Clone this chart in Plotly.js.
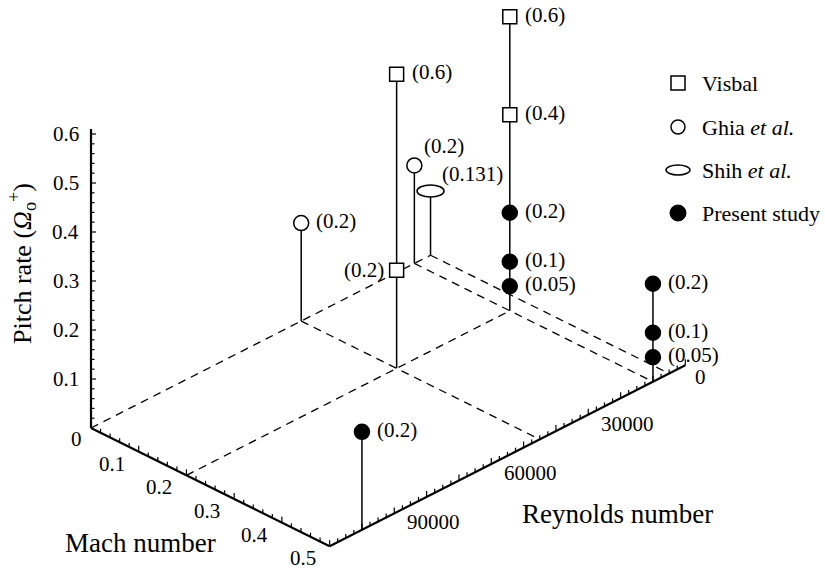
<!DOCTYPE html>
<html>
<head>
<meta charset="utf-8">
<script src="https://cdn.plot.ly/plotly-3.0.1.min.js"></script>
<style>
  html, body { margin: 0; padding: 0; background: #fff; }
  #chart { width: 825px; height: 570px; }
</style>
</head>
<body>
<div id="chart"></div>
<script>
// Pitch-rate cases: Mach number, Reynolds number and pitch rate per source
const visbalMach = [0.2, 0.2, 0.2, 0.2];
const visbalRe = [45000, 45000, 10000, 10000];
const visbalRate = [0.6, 0.2, 0.6, 0.4];

const ghiaMach = [0, 0];
const ghiaRe = [45000, 10000];
const ghiaRate = [0.2, 0.2];

const shihMach = [0];
const shihRe = [5000];
const shihRate = [0.131];

const presentMach = [0.2, 0.2, 0.2, 0.5, 0.5, 0.5, 0.5];
const presentRe = [10000, 10000, 10000, 10000, 10000, 10000, 100000];
const presentRate = [0.2, 0.1, 0.05, 0.2, 0.1, 0.05, 0.2];

// Axis tick labels
const machTicks = [0.1, 0.2, 0.3, 0.4, 0.5];
const machTickLabels = ['0.1', '0.2', '0.3', '0.4', '0.5'];
const reTicks = [0, 30000, 60000, 90000];
const reTickLabels = ['0', '30000', '60000', '90000'];
const rateTicks = [0.1, 0.2, 0.3, 0.4, 0.5, 0.6];
const rateTickLabels = ['0.1', '0.2', '0.3', '0.4', '0.5', '0.6'];

// ---- oblique projection of (Mach, Re, rate) onto the page plane ----
const MACH_MAX = 0.5, RE_MAX = 110000, RATE_MAX = 0.6;
const ORIGIN = [91, 428];          // Mach 0, Re = RE_MAX, rate 0
const MACH_VEC = [238.6, 118.3];   // full Mach span
const RE_VEC = [355.7, -181];      // from Re = RE_MAX down to Re = 0
const RATE_LEN = 294;              // full pitch-rate span (upwards)

function proj(m, re, z) {
  const a = m / MACH_MAX, b = (RE_MAX - re) / RE_MAX, c = z / RATE_MAX;
  return [ORIGIN[0] + a * MACH_VEC[0] + b * RE_VEC[0],
          ORIGIN[1] + a * MACH_VEC[1] + b * RE_VEC[1] - c * RATE_LEN];
}

const FONT = 'Liberation Serif, Times New Roman, Times, serif';
const BLACK = '#000';

function newPath() { return { x: [], y: [] }; }
function seg(path, p, q) { path.x.push(p[0], q[0], null); path.y.push(p[1], q[1], null); }

const series = [
  { key: 'visbal', m: visbalMach, re: visbalRe, z: visbalRate },
  { key: 'ghia', m: ghiaMach, re: ghiaRe, z: ghiaRate },
  { key: 'shih', m: shihMach, re: shihRe, z: shihRate },
  { key: 'present', m: presentMach, re: presentRe, z: presentRate }
];

// ---- axes ----
const axes = newPath();
seg(axes, proj(0, RE_MAX, 0), proj(0, RE_MAX, 0.61));
seg(axes, proj(0, RE_MAX, 0), proj(MACH_MAX, RE_MAX, 0));
seg(axes, proj(MACH_MAX, RE_MAX, 0), proj(MACH_MAX, 0, 0));

// ---- tick marks ----
const ticks = newPath();
for (let i = 1; i <= 30; i++) {
  const p = proj(0, RE_MAX, i * 0.02);
  seg(ticks, p, [p[0] + (i % 5 === 0 ? 5 : 3.5), p[1]]);
}
for (let i = 1; i <= 25; i++) {
  const p = proj(i * 0.02, RE_MAX, 0);
  seg(ticks, p, [p[0], p[1] - (i % 5 === 0 ? 6 : 4)]);
}
for (let i = 0; i < 44; i++) {
  const re = i * 2500;
  const p = proj(MACH_MAX, re, 0);
  seg(ticks, p, [p[0], p[1] - (re % 10000 === 0 ? 6 : 4)]);
}

// ---- dashed guide lines on the base plane ----
const guides = newPath();
const allPts = [];
series.forEach(s => s.m.forEach((m, i) => allPts.push({ m, re: s.re[i], z: s.z[i] })));
const inner = allPts.filter(p => p.m < MACH_MAX);
[...new Set(inner.map(p => p.re))].forEach(re => {
  seg(guides, proj(0, re, 0), proj(MACH_MAX, re, 0));
});
[...new Set(inner.map(p => p.m))].forEach(m => {
  const minRe = Math.min(...inner.filter(p => p.m === m).map(p => p.re));
  seg(guides, proj(m, RE_MAX, 0), proj(m, minRe, 0));
});

// ---- stems from base plane to the highest case at each (Mach, Re) ----
const stems = newPath();
const tops = {};
allPts.forEach(p => {
  const k = p.m + '|' + p.re;
  if (!(k in tops) || p.z > tops[k].z) tops[k] = p;
});
Object.values(tops).forEach(p => seg(stems, proj(p.m, p.re, 0), proj(p.m, p.re, p.z)));

function lineTrace(path, width, dash) {
  return { type: 'scatter', mode: 'lines', x: path.x, y: path.y, hoverinfo: 'skip',
           line: { color: BLACK, width: width, dash: dash || 'solid' }, cliponaxis: false,
           showlegend: false };
}

function markerTrace(s, symbol, fill, size) {
  const pts = s.m.map((m, i) => proj(m, s.re[i], s.z[i]));
  return { type: 'scatter', mode: 'markers', x: pts.map(p => p[0]), y: pts.map(p => p[1]),
           marker: { symbol: symbol, size: size, color: fill, line: { color: BLACK, width: 1.5 } },
           cliponaxis: false, showlegend: false, hoverinfo: 'skip' };
}

const traces = [
  lineTrace(guides, 1.3, '8px,6px'),
  lineTrace(axes, 2.2),
  lineTrace(ticks, 1.2),
  lineTrace(stems, 1.5),
  markerTrace(series[0], 'square', '#fff', 14),
  markerTrace(series[1], 'circle', '#fff', 15),
  markerTrace(series[3], 'circle', BLACK, 15)
];

// Shih et al. case drawn as an ellipse
const shapes = [];
shihMach.forEach((m, i) => {
  const p = proj(m, shihRe[i], shihRate[i]);
  shapes.push({ type: 'circle', layer: 'above', xref: 'x', yref: 'y',
    xsizemode: 'pixel', ysizemode: 'pixel', xanchor: p[0], yanchor: p[1],
    x0: -13.5, x1: 13.5, y0: -6, y1: 6,
    fillcolor: '#fff', line: { color: BLACK, width: 1.5 } });
});

// ---- annotations ----
function note(text, x, y, opts) {
  return Object.assign({ x: x, y: y, xref: 'x', yref: 'y', text: text, showarrow: false,
    font: { family: FONT, size: 21, color: BLACK } }, opts || {});
}
const annotations = [];

// value labels beside each case
const placement = {
  right: { xanchor: 'left', yanchor: 'middle', xshift: 13, yshift: 2 },
  left: { xanchor: 'right', yanchor: 'middle', xshift: -11 },
  above: { xanchor: 'left', yanchor: 'middle', xshift: 8, yshift: 19 }
};
const sidesFor = { visbal: { 1: 'left' }, ghia: { 1: 'above' }, shih: { 0: 'above' } };
series.forEach(s => {
  s.m.forEach((m, i) => {
    const p = proj(m, s.re[i], s.z[i]);
    const side = (sidesFor[s.key] && sidesFor[s.key][i]) || 'right';
    const opt = Object.assign({}, placement[side]);
    if (s.key === 'shih') { opt.xshift = 9; opt.yshift = 17; }
    annotations.push(note('(' + String(s.z[i]) + ')', p[0], p[1], opt));
  });
});

// tick labels
rateTicks.forEach((z, i) => {
  const p = proj(0, RE_MAX, z);
  annotations.push(note(rateTickLabels[i], p[0], p[1], { xanchor: 'right', yanchor: 'middle', xshift: -10 }));
});
{
  const p = proj(0, RE_MAX, 0);
  annotations.push(note('0', p[0], p[1], { xanchor: 'right', yanchor: 'middle', xshift: -7, yshift: -11 }));
}
machTicks.forEach((m, i) => {
  const p = proj(m, RE_MAX, 0);
  annotations.push(note(machTickLabels[i], p[0], p[1], { xanchor: 'right', yanchor: 'middle', xshift: -12, yshift: -12 }));
});
reTicks.forEach((re, i) => {
  const p = proj(MACH_MAX, re, 0);
  annotations.push(note(reTickLabels[i], p[0], p[1], { xanchor: 'left', yanchor: 'middle', xshift: re === 0 ? 8 : 11, yshift: re === 0 ? -12 : -9 }));
});

// axis titles
annotations.push(note('Pitch rate (<i>Ω</i><sub>o</sub><sup>+</sup>)', 22, 264,
  { textangle: -90, xanchor: 'center', yanchor: 'middle', font: { family: FONT, size: 26, color: BLACK } }));
annotations.push(note('Mach number', 140, 543,
  { xanchor: 'center', yanchor: 'middle', font: { family: FONT, size: 27, color: BLACK } }));
annotations.push(note('Reynolds number', 520, 514,
  { xanchor: 'left', yanchor: 'middle', font: { family: FONT, size: 27, color: BLACK } }));

// ---- legend ----
const legendRows = [
  { text: 'Visbal', y: 83 },
  { text: 'Ghia <i>et al.</i>', y: 127 },
  { text: 'Shih <i>et al.</i>', y: 170 },
  { text: 'Present study', y: 213 }
];
const LX = 678, LT = 700;
shapes.push({ type: 'rect', xref: 'x', yref: 'y', x0: LX - 7, x1: LX + 7, y0: 83 - 7, y1: 83 + 7,
  fillcolor: '#fff', line: { color: BLACK, width: 1.5 } });
shapes.push({ type: 'circle', xref: 'x', yref: 'y', x0: LX - 7, x1: LX + 7, y0: 127 - 7, y1: 127 + 7,
  fillcolor: '#fff', line: { color: BLACK, width: 1.5 } });
shapes.push({ type: 'circle', xref: 'x', yref: 'y', x0: LX - 12, x1: LX + 12, y0: 170 - 5, y1: 170 + 5,
  fillcolor: '#fff', line: { color: BLACK, width: 1.5 } });
shapes.push({ type: 'circle', xref: 'x', yref: 'y', x0: LX - 8, x1: LX + 8, y0: 213 - 8, y1: 213 + 8,
  fillcolor: BLACK, line: { color: BLACK, width: 1 } });
legendRows.forEach(r => {
  annotations.push(note(r.text, LT, r.y, { xanchor: 'left', yanchor: 'middle', font: { family: FONT, size: 22, color: BLACK } }));
});

const layout = {
  width: 825, height: 570,
  margin: { l: 0, r: 0, t: 0, b: 0 },
  paper_bgcolor: '#fff', plot_bgcolor: '#fff',
  showlegend: false,
  xaxis: { range: [0, 825], visible: false, fixedrange: true },
  yaxis: { range: [570, 0], visible: false, fixedrange: true },
  shapes: shapes,
  annotations: annotations
};

Plotly.newPlot('chart', traces, layout, { staticPlot: true, displayModeBar: false });
</script>
</body>
</html>
